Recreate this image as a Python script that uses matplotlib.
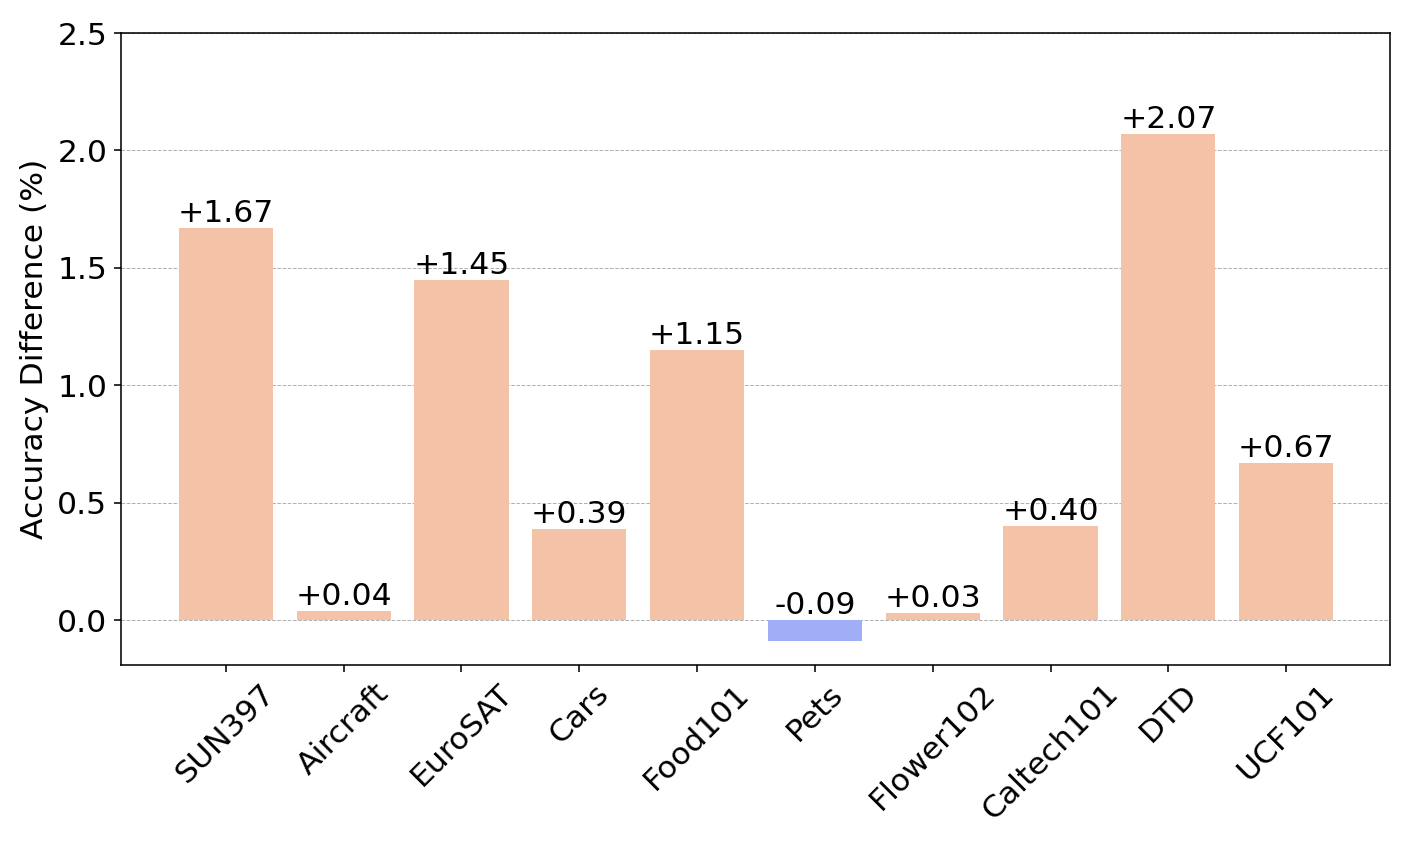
import matplotlib
matplotlib.use("Agg")
import matplotlib.pyplot as plt
import numpy as np

datasets = ["SUN397", "Aircraft", "EuroSAT", "Cars", "Food101", "Pets",
            "Flower102", "Caltech101", "DTD", "UCF101"]
diffs = [1.67, 0.04, 1.45, 0.39, 1.15, -0.09, 0.03, 0.40, 2.07, 0.67]

pos_color = "#f4c2a6"
neg_color = "#a0aef8"

fig = plt.figure(figsize=(10, 6), dpi=141.2)
ax = fig.add_axes([0.0857, 0.215, 0.8986, 0.746])

x = np.arange(len(datasets))
colors = [pos_color if d >= 0 else neg_color for d in diffs]
ax.bar(x, diffs, width=0.8, color=colors, zorder=2)

for xi, d in zip(x, diffs):
    ax.text(xi, max(d, 0), f"{d:+.2f}", ha="center", va="bottom", fontsize=16)

ax.set_ylim(-0.19, 2.5)
ax.set_xlim(-0.89, 9.88)
ax.set_xticks(x)
ax.set_xticklabels(datasets, rotation=45, fontsize=16)
ax.tick_params(axis="y", labelsize=16)
ax.set_yticks([0.0, 0.5, 1.0, 1.5, 2.0, 2.5])
ax.set_ylabel("Accuracy Difference (%)", fontsize=16)
ax.yaxis.grid(True, linestyle="--", linewidth=0.5, color="#b0b0b0", zorder=0)
ax.set_axisbelow(True)

fig.savefig("out.png", dpi=141.2)
